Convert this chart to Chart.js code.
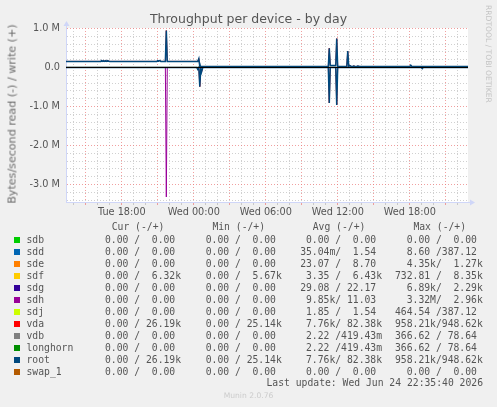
<!DOCTYPE html>
<html>
<head>
<meta charset="utf-8">
<script src="https://cdn.jsdelivr.net/npm/chart.js@4.4.1/dist/chart.umd.min.js"></script>
<style>
    html, body { margin: 0; padding: 0; background: #f0f0f0; }
    #wrap { position: relative; width: 497px; height: 407px; overflow: hidden; font-family: "DejaVu Sans", sans-serif; color: #666; }
    #c { position: absolute; left: 0; top: 0; }
    .title { position: absolute; left: 0; top: 11px; width: 497px; text-align: center; font-size: 12.5px; line-height: 16px; color: #555; }
    .ytitle { position: absolute; left: 11.5px; top: 114px; transform: translate(-50%, -50%) rotate(-90deg); white-space: nowrap; font-size: 11.1px; color: #6a6a6a; }
    .brand { position: absolute; left: 484px; top: 5px; writing-mode: vertical-rl; font-size: 7.6px; color: #c4c4c4; white-space: nowrap; }
    .mono { position: absolute; white-space: pre; line-height: 12px; font-family: "DejaVu Sans Mono", monospace; font-size: 9.72px; color: #555; }
    .sw { position: absolute; width: 6px; height: 6px; }
    .munin { position: absolute; left: 0; width: 497px; top: 390px; text-align: center; font-size: 7.6px; line-height: 12px; color: #ccc; }
</style>
</head>
<body>
<div id="wrap">
    <canvas id="c" width="497" height="407"></canvas>
    <div class="title">Throughput per device - by day</div>
    <div class="ytitle">Bytes/second read (-) / write (+)</div>
    <div class="brand">RRDTOOL / TOBI OETIKER</div>
    <div id="legend"></div>
    <div class="munin">Munin 2.0.76</div>
</div>
<script>
    "use strict";

    // time axis in hours since Tue 00:00
    const HOUR_MIN = 13.35;
    const HOUR_MAX = 46.85;
    const Y_MIN = -3448700;
    const Y_MAX = 1012800;

    // grid: one line per hour (red every 3h), one per 0.2M (red every 1M)
    const X_STEP = 1;
    const Y_STEP = 200000;

    const deviceNames = ["sdb", "sdd", "sde", "sdf", "sdg", "sdh", "sdj", "vda", "vdb", "longhorn", "root", "swap_1"];
    const deviceColors = ["#00CC00", "#0066B3", "#FF8000", "#FFCC00", "#330099", "#990099", "#CCFF00", "#FF0000", "#808080", "#008F00", "#00487D", "#B35A00"];

    // legend statistics (read / write), bytes per second
    const curRead = [0, 0, 0, 0, 0, 0, 0, 0, 0, 0, 0, 0];
    const curWrite = [0, 0, 0, 6320, 0, 0, 0, 26190, 0, 0, 26190, 0];
    const minRead = [0, 0, 0, 0, 0, 0, 0, 0, 0, 0, 0, 0];
    const minWrite = [0, 0, 0, 5670, 0, 0, 0, 25140, 0, 0, 25140, 0];
    const avgRead = [0, 0.03504, 23.07, 3.35, 29.08, 9850, 1.85, 7760, 2.22, 2.22, 7760, 0];
    const avgWrite = [0, 1.54, 8.70, 6430, 22.17, 11.03, 1.54, 82380, 0.41943, 0.41943, 82380, 0];
    const maxRead = [0, 8.60, 4350, 732.81, 6890, 3320000, 464.54, 958210, 366.62, 366.62, 958210, 0];
    const maxWrite = [0, 387.12, 1270, 8350, 2290, 2960, 387.12, 948620, 78.64, 78.64, 948620, 0];

    // quiet devices (values below one pixel)
    const quietHours = [13.35, 46.85];
    const quietBytes = [0, 0];

    // root write (+)
    const rootWriteHours = [13.35, 16.25, 16.33, 16.42, 16.5, 16.58, 16.67, 16.75, 16.83, 16.92, 17.0,
        20.92, 21.0, 21.08, 21.17, 21.25, 21.63, 21.71, 21.79, 24.33, 24.42, 24.5,
        35.21, 35.29, 35.37, 35.83, 35.91, 35.99, 36.75, 36.83, 36.91, 37.0, 37.17, 37.33, 37.5, 37.67, 37.83,
        42.0, 42.08, 42.17, 46.85];
    const rootWriteBytes = [156000, 156000, 178000, 160000, 178000, 160000, 178000, 160000, 178000, 160000, 156000,
        156000, 175000, 165000, 178000, 156000, 156000, 948620, 156000, 156000, 230000, 26000,
        26000, 495000, 50000, 50000, 740000, 26000, 26000, 420000, 30000, 50000, 20000, 40000, 20000, 35000, 26000,
        26000, 60000, 26000, 26000];

    // root read (-)
    const rootReadHours = [13.35, 24.25, 24.33, 24.42, 24.5, 24.58, 24.64, 24.75,
        35.21, 35.29, 35.37, 35.83, 35.91, 35.99, 42.96, 43.04, 43.12, 46.85];
    const rootReadBytes = [0, 0, -50000, 0, -490000, -20000, -120000, 0,
        0, -910000, 0, 0, -958210, 0, 0, -30000, 0, 0];

    // sdh read (-)
    const sdhReadHours = [13.35, 21.63, 21.71, 21.79, 46.85];
    const sdhReadBytes = [0, 0, -3320000, 0, 0];

    const zeroHours = [HOUR_MIN, HOUR_MAX];
    const zeroBytes = [0, 0];

    function points(hours, values) {
        return hours.map((h, i) => ({ x: h, y: values[i] }));
    }

    function seriesFor(name) {
        if (name === "root" || name === "vda") {
            return { read: points(rootReadHours, rootReadBytes), write: points(rootWriteHours, rootWriteBytes) };
        }
        if (name === "sdh") {
            return { read: points(sdhReadHours, sdhReadBytes), write: points(quietHours, quietBytes) };
        }
        return { read: points(quietHours, quietBytes), write: points(quietHours, quietBytes) };
    }

    const datasets = [];
    deviceNames.forEach((name, i) => {
        const s = seriesFor(name);
        const base = {
            borderColor: deviceColors[i],
            borderWidth: name === "root" ? 1.5 : 1,
            pointRadius: 0,
            tension: 0,
            fill: false,
            order: 100 - i
        };
        datasets.push(Object.assign({ label: name + " read", data: s.read }, base));
        datasets.push(Object.assign({ label: name + " write", data: s.write }, base));
    });
    datasets.push({
        label: "zero", data: points(zeroHours, zeroBytes),
        borderColor: "#000000", borderWidth: 1, pointRadius: 0, order: 0
    });

    /* ---------------- legend table ---------------- */
    function fmt(v) {
        const a = Math.abs(v);
        let n = v, u = " ";
        if (a >= 1e6) { n = v / 1e6; u = "M"; }
        else if (a >= 1e3) { n = v / 1e3; u = "k"; }
        else if (a > 0 && a < 1) { n = v * 1e3; u = "m"; }
        return n.toFixed(2).padStart(6, " ") + u;
    }

    function cell(r, w) { return fmt(r) + "/" + fmt(w); }

    function buildLegend() {
        const el = document.getElementById("legend");
        const CHAR = 5.85;
        const cols = [
            { head: "Cur (-/+)", x: 105, r: curRead, w: curWrite },
            { head: "Min (-/+)", x: 205.7, r: minRead, w: minWrite },
            { head: "Avg (-/+)", x: 306, r: avgRead, w: avgWrite },
            { head: "Max (-/+)", x: 406.7, r: maxRead, w: maxWrite }
        ];
        const headTop = 227.3 - 6;
        let html = "";
        cols.forEach(c => {
            html += `<div class="mono" style="left:${(c.x + 6.7).toFixed(1)}px;top:${headTop}px">${c.head}</div>`;
        });
        deviceNames.forEach((name, i) => {
            const cy = 239.7 + i * 12;
            html += `<div class="sw" style="left:14px;top:${(cy - 3).toFixed(1)}px;background:${deviceColors[i]}"></div>`;
            html += `<div class="mono" style="left:26.5px;top:${(cy - 6).toFixed(1)}px">${name}</div>`;
            cols.forEach(c => {
                html += `<div class="mono" style="left:${(c.x - 2 * CHAR).toFixed(1)}px;top:${(cy - 6).toFixed(1)}px">${cell(c.r[i], c.w[i])}</div>`;
            });
        });
        html += `<div class="mono" style="right:14px;top:${383.3 - 6}px">Last update: Wed Jun 24 22:35:40 2026</div>`;
        el.innerHTML = html;
    }

    /* ---------------- chart ---------------- */
    const MINOR = "rgba(150,150,150,0.45)";
    const MAJOR = "rgba(235,120,120,0.7)";
    const AXIS = "#cfd6f8";

    function isMajorX(v) { return Math.abs(v - 3 * Math.round(v / 3)) < 1e-6; }
    function isMajorY(v) { return Math.abs(v - 1e6 * Math.round(v / 1e6)) < 1; }

    function hourLabel(v) {
        if (Math.abs(v - 6 * Math.round(v / 6)) > 1e-6) return "";
        const h = Math.round(v);
        const day = h < 24 ? "Tue" : (h < 48 ? "Wed" : "Thu");
        const hh = String(h % 24).padStart(2, "0");
        return `${day} ${hh}:00`;
    }

    function stepTicks(scale, step) {
        const ticks = [];
        for (let v = Math.ceil(scale.min / step) * step; v <= scale.max + 1e-9; v += step) {
            ticks.push({ value: Math.round(v / step) * step });
        }
        scale.ticks = ticks;
    }

    const plotBg = {
        id: "plotBg",
        beforeDraw(chart) {
            const { ctx, chartArea: a } = chart;
            ctx.save();
            ctx.fillStyle = "#ffffff";
            ctx.fillRect(a.left, a.top, a.right - a.left, a.bottom - a.top);
            ctx.restore();
        },
        afterDraw(chart) {
            const { ctx, chartArea: a } = chart;
            ctx.save();
            ctx.strokeStyle = AXIS;
            ctx.fillStyle = AXIS;
            ctx.lineWidth = 1;
            ctx.beginPath();
            ctx.moveTo(a.left + 0.5, a.top);
            ctx.lineTo(a.left + 0.5, a.top - 3);
            ctx.moveTo(a.right, a.bottom + 0.5);
            ctx.lineTo(a.right + 3, a.bottom + 0.5);
            ctx.stroke();
            ctx.beginPath();
            ctx.moveTo(a.left + 0.5, a.top - 7);
            ctx.lineTo(a.left - 2.5, a.top - 2);
            ctx.lineTo(a.left + 3.5, a.top - 2);
            ctx.closePath();
            ctx.fill();
            ctx.beginPath();
            ctx.moveTo(a.right + 7, a.bottom + 0.5);
            ctx.lineTo(a.right + 2, a.bottom - 2.5);
            ctx.lineTo(a.right + 2, a.bottom + 3.5);
            ctx.closePath();
            ctx.fill();
            ctx.restore();
        }
    };

    buildLegend();

    new Chart(document.getElementById("c").getContext("2d"), {
        type: "line",
        data: { datasets },
        options: {
            responsive: false,
            animation: false,
            parsing: false,
            normalized: true,
            layout: { padding: { left: 0, right: 29, top: 28, bottom: 0 } },
            plugins: { legend: { display: false }, tooltip: { enabled: false }, title: { display: false } },
            scales: {
                x: {
                    type: "linear",
                    min: HOUR_MIN,
                    max: HOUR_MAX,
                    afterBuildTicks: (s) => stepTicks(s, X_STEP),
                    afterFit: (s) => { s.height = 205; },
                    ticks: {
                        autoSkip: false,
                        maxRotation: 0,
                        padding: 2,
                        color: "#555",
                        font: { family: "DejaVu Sans", size: 9.72 },
                        callback: (v) => hourLabel(v)
                    },
                    grid: {
                        color: (c) => (c.tick && isMajorX(c.tick.value) ? MAJOR : MINOR),
                        tickColor: (c) => (c.tick && isMajorX(c.tick.value) ? MAJOR : MINOR),
                        tickLength: 3,
                        tickBorderDash: [],
                        lineWidth: 1
                    },
                    border: { display: true, color: AXIS, dash: [1, 2] }
                },
                y: {
                    type: "linear",
                    min: Y_MIN,
                    max: Y_MAX,
                    afterBuildTicks: (s) => stepTicks(s, Y_STEP),
                    afterFit: (s) => { s.width = 66; },
                    ticks: {
                        autoSkip: false,
                        padding: 3,
                        color: "#555",
                        font: { family: "DejaVu Sans", size: 9.72 },
                        callback: (v) => {
                            if (!isMajorY(v)) return "";
                            return Math.abs(v) < 1 ? "0.0" : (v / 1000000).toFixed(1) + " M";
                        }
                    },
                    grid: {
                        color: (c) => (c.tick && isMajorY(c.tick.value) ? MAJOR : MINOR),
                        drawTicks: true,
                        tickLength: 3,
                        tickColor: "rgba(0,0,0,0)",
                        lineWidth: 1
                    },
                    border: { display: true, color: AXIS, dash: [1, 2] }
                }
            }
        },
        plugins: [plotBg]
    });
</script>
</body>
</html>
